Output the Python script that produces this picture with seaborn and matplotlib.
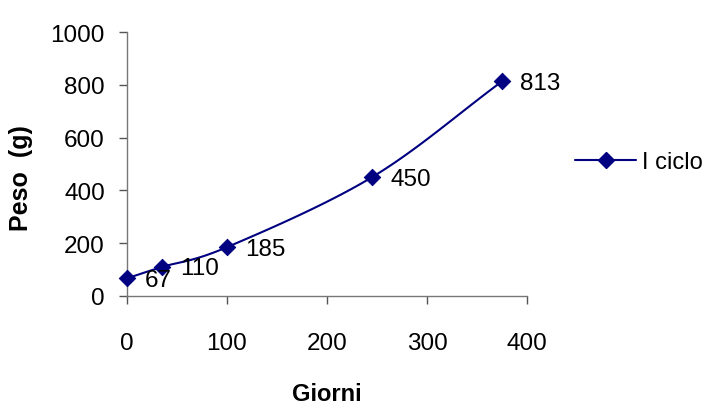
import numpy as np
import pandas as pd
import matplotlib
matplotlib.use("Agg")
import matplotlib.pyplot as plt
import seaborn as sns

giorni = [0, 35, 100, 245, 375]
peso = [67, 110, 185, 450, 813]
labels = ["67", "110", "185", "450", "813"]
series_name = "I ciclo"

sns.set_style("white")
plt.rcParams['font.family'] = ['Liberation Sans', 'DejaVu Sans']
plt.rcParams['text.color'] = 'black'
plt.rcParams['axes.labelcolor'] = 'black'
plt.rcParams['xtick.color'] = 'black'
plt.rcParams['ytick.color'] = 'black'

fig = plt.figure(figsize=(7.09, 4.14), dpi=100)
ax = fig.add_axes([127/709, 1-297/414, 400/709, 264/414])

color = "#000080"

def catmull(xs, ys, n=30):
    P = np.column_stack([xs, ys]).astype(float)
    P = np.vstack([P[0] - (P[1] - P[0]), P, P[-1] + (P[-1] - P[-2])])
    out = []
    for i in range(1, len(P) - 2):
        p0, p1, p2, p3 = P[i-1], P[i], P[i+1], P[i+2]
        t = np.linspace(0, 1, n)[:, None]
        seg = 0.5 * ((2*p1) + (-p0 + p2)*t + (2*p0 - 5*p1 + 4*p2 - p3)*t**2 + (-p0 + 3*p1 - 3*p2 + p3)*t**3)
        out.append(seg)
    return np.vstack(out)

curve = catmull(giorni, peso)
ax.plot(curve[:, 0], curve[:, 1], color=color, lw=1.5, zorder=2, clip_on=False)
df = pd.DataFrame({"Giorni": giorni, "Peso": peso})
sns.scatterplot(data=df, x="Giorni", y="Peso", marker="D", s=70, color=color,
                edgecolor=color, ax=ax, zorder=3, legend=False, clip_on=False)

for x, y, t in zip(giorni, peso, labels):
    ax.annotate(t, (x, y), xytext=(13, -1), textcoords="offset points",
                fontsize=17.5, va="center", ha="left", color="black")

ax.set_xlim(0, 400)
ax.set_ylim(0, 1000)
ax.set_xticks([0, 100, 200, 300, 400])
ax.set_yticks([0, 200, 400, 600, 800, 1000])
ax.tick_params(axis="both", labelsize=17.5, length=6, width=1, color="#555555",
               labelcolor="black", direction="out", bottom=True, left=True, pad=10)
ax.tick_params(axis="x", pad=20)
for s in ["top", "right"]:
    ax.spines[s].set_visible(False)
for s in ["left", "bottom"]:
    ax.spines[s].set_color("#777777")
    ax.spines[s].set_linewidth(1)

ax.set_xlabel("Giorni", fontsize=17, fontweight="bold", color="black")
ax.set_ylabel("Peso  (g)", fontsize=18, fontweight="bold", color="black")
ax.yaxis.set_label_coords(-0.235, 0.45)
ax.xaxis.set_label_coords(0.5, -0.326)

from matplotlib.lines import Line2D
h = Line2D([0], [0], color=color, lw=1.5, marker="D", markersize=8)
leg = fig.legend([h], [series_name], loc="center left", bbox_to_anchor=(575/709, 1-163/414),
                 frameon=False, fontsize=17, handlelength=2.6, handletextpad=0.25, borderaxespad=0,
                 borderpad=0, labelcolor="black")

fig.savefig("out.png", dpi=100)
